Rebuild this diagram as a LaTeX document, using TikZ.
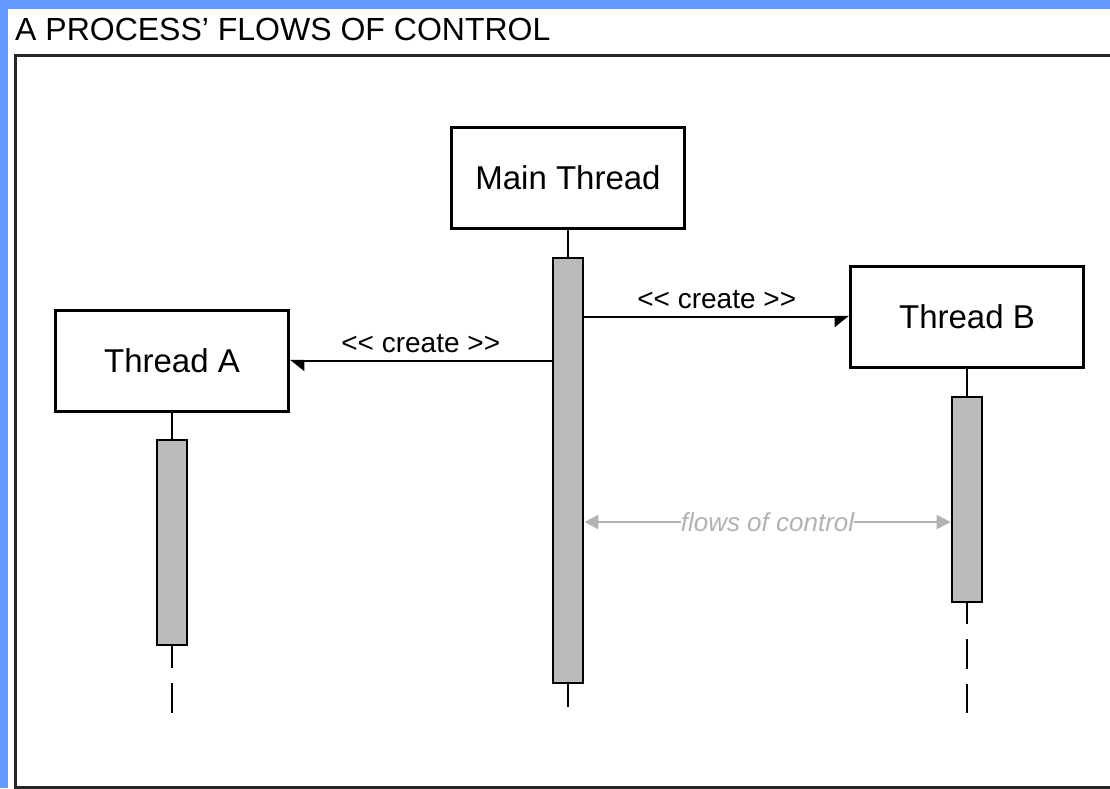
\documentclass[tikz,border=0pt]{standalone}
\usepackage{xcolor}
\usepackage{fontspec}
\setmainfont{Liberation Sans}
\usepackage{tikz}
\usetikzlibrary{arrows.meta}
\definecolor{panelblue}{HTML}{6699FF}
\definecolor{bargray}{HTML}{BBBBBB}
\definecolor{flowgray}{HTML}{B2B2B2}

\begin{document}
\begin{tikzpicture}[x=1pt,y=-1pt,
	thread/.style={draw, line width=2.8pt, fill=white, minimum width=233pt, minimum height=101pt, font=\fontsize{33}{38}\selectfont},
	bar/.style={draw, line width=2.8pt, fill=bargray, minimum width=\barWidth pt},
	lifeline/.style={line width=2.8pt, dash pattern=on 30pt off 15pt},
	msg/.style={line width=2.4pt},
	flow/.style={flowgray, line width=2.2pt, {Triangle[length=14pt,width=14pt]}-{Triangle[length=14pt,width=14pt]}}]
	\pgfmathsetmacro{\barWidth}{30}
	\pgfmathsetmacro{\lifeEnd}{713}
	
	% Window background and frame
	\useasboundingbox (0,0) rectangle (1110,788);
	\fill[panelblue] (0,0) rectangle (1110,788);
	\fill[white] (8,9) rectangle (1110,788);
	\begin{scope}
		\clip (0,0) rectangle (1110,788);
		\draw[line width=3pt, black!85] (15,55) rectangle (1130,787);
	\end{scope}
	\node[anchor=base west, inner sep=0pt, font=\fontsize{32}{38}\selectfont] (title) at (15,40) {A PROCESS' FLOWS OF CONTROL};
	
	% Threads
	\node[thread] (main) at (568,178) {Main Thread};
	\node[thread] (threadA) at (172,361) {Thread A};
	\node[thread] (threadB) at (967,317) {Thread B};
	
	% Lifelines - drawn first, the bars go on top
	\coordinate (mainEnd) at (568,707);
	\coordinate (aEnd) at (172,\lifeEnd);
	\coordinate (bEnd) at (967,\lifeEnd);
	\draw[lifeline] (main.south) -- (mainEnd);
	\draw[lifeline] (threadA.south) -- (aEnd);
	\draw[lifeline] (threadB.south) -- (bEnd);
	
	% Activation bars
	\node[bar, minimum height=425pt] (mainBar) at (568,470.5) {};
	\node[bar, minimum height=205pt] (aBar) at (172,542.5) {};
	\node[bar, minimum height=205pt] (bBar) at (967,499.5) {};
	
	% Create messages
	\draw[msg, -{Triangle[left, length=13pt, width=20pt]}] (mainBar.west |- threadA.east) -- node[above=7pt, inner sep=0pt, font=\fontsize{28}{32}\selectfont] (createA) {<{}< create >{}>} (threadA.east);
	\draw[msg, -{Triangle[right, length=13pt, width=20pt]}] (mainBar.east |- threadB.west) -- node[above=7pt, inner sep=0pt, font=\fontsize{28}{32}\selectfont] (createB) {<{}< create >{}>} (threadB.west);
	
	% Flows of control
	\coordinate (flowL) at (mainBar.east |- 0,522);
	\coordinate (flowR) at (bBar.west |- 0,522);
	\draw[flow] (flowL) -- node[fill=white, inner sep=0pt, text=flowgray, font=\fontsize{26}{30}\selectfont\itshape] (flowText) {flows of control} (flowR);
	
\end{tikzpicture}
\end{document}
